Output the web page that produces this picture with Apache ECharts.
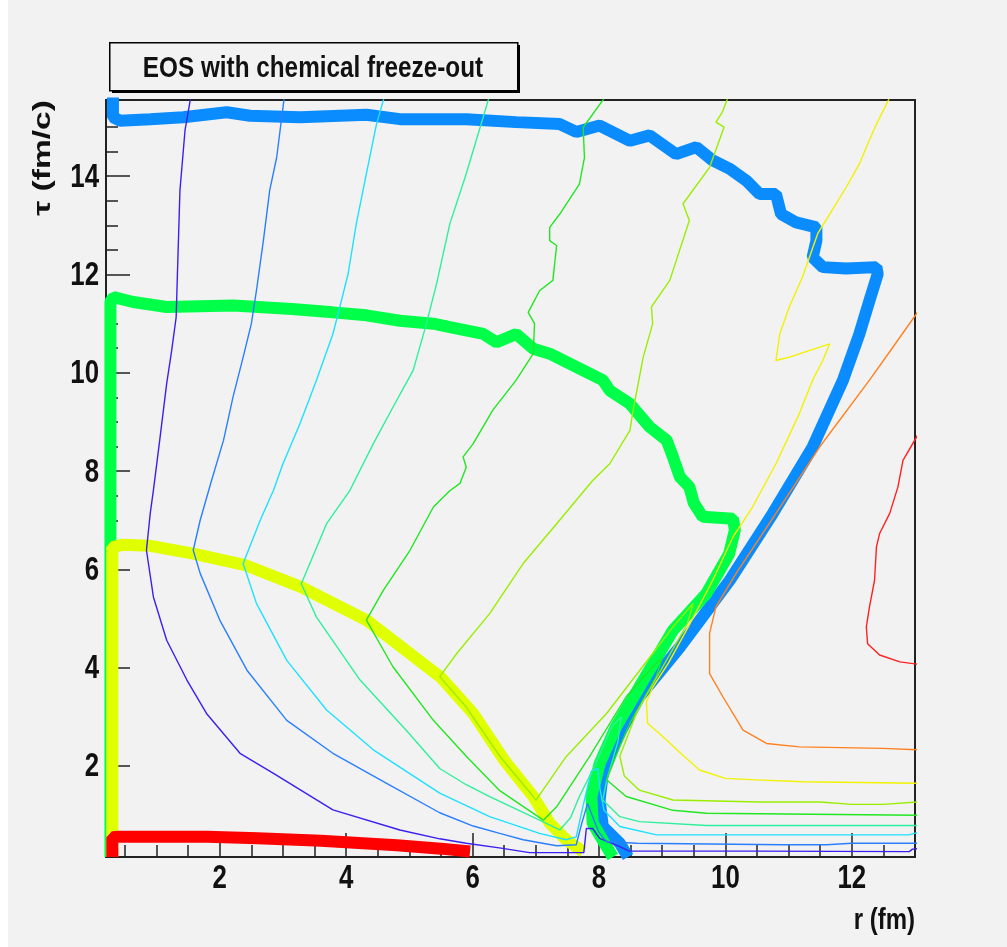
<!DOCTYPE html>
<html>
<head>
<meta charset="utf-8">
<script src="https://cdn.jsdelivr.net/npm/echarts@6/dist/echarts.min.js"></script>
<style>
  html, body { margin: 0; padding: 0; background: #ffffff; }
  #chart { width: 1007px; height: 947px; }
</style>
</head>
<body>
<div id="chart"></div>
<script>
// Axis ranges: r (fm) and tau (fm/c)
const rRange = [0.2, 13];
const tauRange = [0.15, 15.55];
// Labelled tick values
const rTicks = [2, 4, 6, 8, 10, 12];
const tauTicks = [2, 4, 6, 8, 10, 12, 14];

// Freeze-out surfaces, [r, tau] pairs
const redSurface = [[0.3,0.15],[0.3,0.55],[0.4,0.56],[1.8,0.56],[2.6,0.53],[3.6,0.48],[4.8,0.39],[5.5,0.32],[5.96,0.26]];
const yellowSurface = [[0.3,0.15],[0.3,6.45],[0.45,6.5],[0.9,6.48],[1.58,6.32],[2.4,6.09],[3.29,5.64],[4.32,4.97],[5.5,3.8],[6.01,3.07],[6.5,2.12],[6.96,1.38],[7.22,0.84],[7.48,0.5],[7.75,0.26]];
const greenSurface = [[0.27,0.15],[0.27,11.45],[0.32,11.54],[0.63,11.44],[1.16,11.34],[2.21,11.37],[3.14,11.3],[3.79,11.23],[4.32,11.17],[4.85,11.06],[5.38,11.0],[5.64,10.93],[6.17,10.79],[6.38,10.62],[6.69,10.79],[6.96,10.49],[7.22,10.39],[7.75,10.05],[8.06,9.85],[8.17,9.64],[8.49,9.37],[8.8,8.9],[9.07,8.63],[9.17,8.29],[9.28,7.88],[9.43,7.68],[9.5,7.35],[9.64,7.07],[10.12,7.03],[10.15,6.8],[10.06,6.32],[9.7,5.51],[9.17,4.76],[8.64,3.61],[8.27,2.8],[8.01,2.05],[7.88,1.38],[7.9,0.84],[8.12,0.36],[8.22,0.15]];
const blueSurface = [[0.31,15.6],[0.31,15.2],[0.42,15.13],[0.9,15.16],[1.42,15.2],[2.11,15.3],[2.48,15.23],[3.27,15.2],[4.32,15.25],[4.85,15.16],[5.9,15.16],[6.69,15.1],[7.38,15.06],[7.64,14.9],[8.01,15.03],[8.49,14.72],[8.8,14.83],[9.22,14.45],[9.54,14.59],[9.8,14.32],[10.07,14.15],[10.33,13.91],[10.54,13.64],[10.8,13.64],[10.88,13.23],[11.12,13.06],[11.44,12.96],[11.44,12.69],[11.38,12.35],[11.54,12.15],[11.91,12.12],[12.39,12.15],[12.41,12.01],[12.28,11.47],[12.12,10.79],[11.86,9.85],[11.38,8.49],[10.75,7.14],[10.07,5.78],[9.28,4.42],[8.64,3.41],[8.27,2.53],[8.06,1.85],[8.01,1.31],[8.06,0.77],[8.33,0.43],[8.46,0.15]];

// Isotherms, [r, tau] pairs
const isoDarkBlue = [[1.54,15.6],[1.45,14.93],[1.37,13.71],[1.33,12.01],[1.31,11.13],[1.24,10.46],[1.16,9.78],[1.05,8.63],[0.95,7.61],[0.9,7.14],[0.84,6.39],[0.95,5.44],[1.16,4.56],[1.48,3.75],[1.79,3.07],[2.32,2.26],[2.85,1.85],[3.79,1.11],[4.85,0.7],[5.48,0.52],[5.9,0.43],[6.45,0.33],[6.9,0.24],[7.76,0.24],[7.8,0.73],[7.9,0.73],[8.01,0.53],[8.33,0.36],[8.48,0.27],[10.5,0.27],[12.91,0.26],[12.96,0.31],[13.05,0.32]];
const isoBlue = [[3.02,15.6],[2.9,14.38],[2.79,13.71],[2.69,12.69],[2.58,11.67],[2.5,11.0],[2.37,10.32],[2.21,9.51],[2.06,8.63],[1.87,7.81],[1.69,7.0],[1.58,6.39],[1.69,5.92],[2.0,4.97],[2.43,3.95],[3.06,2.93],[3.79,2.26],[4.64,1.65],[5.48,1.05],[6.01,0.78],[6.43,0.63],[6.8,0.5],[7.33,0.38],[7.64,0.4],[7.72,0.8],[7.82,1.24],[7.92,0.9],[8.0,0.65],[8.12,0.46],[8.6,0.43],[10.9,0.4],[11.6,0.4],[12.0,0.43],[13.05,0.43]];
const isoCyan = [[4.6,15.6],[4.48,15.06],[4.32,14.05],[4.16,13.03],[4.03,12.01],[3.9,11.34],[3.79,10.79],[3.53,9.85],[3.27,8.97],[3.0,8.15],[2.85,7.61],[2.64,7.0],[2.37,6.12],[2.58,5.31],[3.06,4.15],[3.69,3.14],[4.43,2.33],[5.48,1.45],[6.27,0.97],[7.06,0.63],[7.48,0.5],[7.64,0.56],[7.75,1.2],[7.88,1.9],[7.98,1.95],[8.02,1.5],[8.08,1.1],[8.33,0.77],[8.91,0.6],[10.0,0.6],[12.9,0.6],[13.05,0.65]];
const isoSeaGreen = [[6.26,15.6],[5.9,14.05],[5.64,13.03],[5.43,11.81],[5.27,11.0],[5.06,10.05],[4.74,9.3],[4.43,8.56],[4.06,7.61],[3.69,6.93],[3.29,5.71],[3.53,5.03],[4.22,3.75],[4.95,2.73],[5.48,1.95],[5.9,1.62],[6.27,1.38],[7.06,0.9],[7.38,0.7],[7.55,0.95],[7.69,1.38],[7.95,2.05],[8.2,2.8],[8.35,3.0],[8.3,2.5],[8.12,1.7],[8.06,1.31],[8.33,0.97],[8.64,0.87],[9.7,0.79],[13.05,0.79]];
const isoGreen = [[8.09,15.6],[7.75,14.99],[7.77,14.38],[7.69,13.84],[7.38,13.23],[7.22,12.96],[7.22,12.69],[7.33,12.59],[7.27,11.88],[7.06,11.67],[6.88,11.23],[6.98,11.0],[6.96,10.39],[6.69,9.85],[6.32,9.24],[6.01,8.56],[5.85,8.29],[5.9,8.08],[5.8,7.75],[5.64,7.6],[5.38,7.27],[5.01,6.39],[4.59,5.58],[4.32,4.97],[4.74,4.02],[5.38,2.93],[5.9,2.2],[6.43,1.5],[7.12,0.9],[7.33,1.17],[7.85,2.19],[8.43,3.41],[8.85,4.02],[9.0,4.2],[8.9,3.8],[8.5,2.9],[8.3,2.3],[8.12,1.72],[8.43,1.38],[9.17,1.1],[9.7,1.04],[13.05,1.0]];
const isoLime = [[10.04,15.6],[9.95,15.3],[9.85,15.1],[9.98,15.0],[9.75,14.18],[9.33,13.44],[9.43,13.1],[9.12,11.88],[8.83,11.34],[8.85,11.0],[8.7,10.32],[8.54,9.24],[8.49,8.83],[8.17,8.15],[7.9,7.81],[7.33,6.93],[6.8,6.12],[6.27,5.1],[5.75,4.29],[5.48,3.82],[5.9,3.2],[6.43,2.2],[6.96,1.38],[7.0,1.3],[7.48,2.19],[8.12,3.07],[8.85,4.29],[9.17,4.83],[9.49,5.31],[9.4,4.9],[9.0,4.0],[8.6,3.1],[8.33,2.2],[8.4,1.8],[8.64,1.51],[9.17,1.31],[10.54,1.27],[11.5,1.27],[12.0,1.22],[12.5,1.22],[13.05,1.27]];
const isoYellow = [[12.6,15.6],[12.39,15.06],[12.23,14.59],[12.12,14.25],[11.91,13.77],[11.65,13.23],[11.46,12.83],[11.33,12.35],[11.22,11.95],[11.01,11.34],[10.86,10.79],[10.8,10.25],[11.01,10.32],[11.65,10.59],[11.54,10.25],[11.38,9.85],[11.17,9.17],[10.8,8.15],[10.43,7.27],[10.12,6.66],[9.8,5.78],[9.4,4.8],[9.1,4.1],[8.85,3.6],[8.75,3.3],[8.77,2.87],[9.07,2.53],[9.3,2.25],[9.59,1.92],[10.0,1.75],[10.5,1.72],[11.22,1.68],[13.05,1.65]];
const isoOrange = [[13.05,11.25],[12.65,10.52],[12.28,9.85],[11.49,8.49],[10.8,7.14],[10.17,5.92],[9.85,5.24],[9.75,4.7],[9.75,3.88],[9.96,3.41],[10.28,2.73],[10.65,2.46],[11.17,2.39],[12.49,2.36],[13.05,2.33]];
const isoRed = [[13.05,8.75],[12.81,8.22],[12.73,7.68],[12.6,7.14],[12.44,6.73],[12.39,6.46],[12.36,5.78],[12.28,5.24],[12.23,4.83],[12.25,4.49],[12.44,4.26],[12.76,4.12],[13.05,4.07]];

const surfaces = [
  { data: blueSurface, color: '#0a8cff' },
  { data: greenSurface, color: '#00ff48' },
  { data: yellowSurface, color: '#e0ff00' },
  { data: redSurface, color: '#ff0000' }
];
const isotherms = [
  { data: isoDarkBlue, color: '#3a1ff0' },
  { data: isoBlue, color: '#2a7fff' },
  { data: isoCyan, color: '#1ee0ff' },
  { data: isoSeaGreen, color: '#2ef09a' },
  { data: isoGreen, color: '#22e622' },
  { data: isoLime, color: '#99ee00' },
  { data: isoYellow, color: '#f2f200' },
  { data: isoOrange, color: '#ff8020' },
  { data: isoRed, color: '#ff2020' }
];

const FONT = "'Liberation Sans', Arial, sans-serif";
const INK = '#111';
const NARROW = 0.76;   // horizontal squeeze giving the condensed Helvetica look
const PANEL = '#f2f2f2';

const chart = echarts.init(document.getElementById('chart'), null, { renderer: 'canvas' });

const series = [];
surfaces.forEach((s, i) => series.push({
  type: 'line', data: s.data, xAxisIndex: 0, yAxisIndex: 0,
  showSymbol: false, symbol: 'none', silent: true, clip: true,
  lineStyle: { color: s.color, width: 12, join: 'bevel', cap: 'butt' },
  z: 2 + i * 0.01
}));
isotherms.forEach(s => series.push({
  type: 'line', data: s.data, xAxisIndex: 0, yAxisIndex: 0,
  showSymbol: false, symbol: 'none', silent: true, clip: true,
  lineStyle: { color: s.color, width: 1.4 },
  z: 3
}));

// Tick labels placed through the axis scales, squeezed horizontally
series.push({
  type: 'custom', coordinateSystem: 'cartesian2d', xAxisIndex: 0, yAxisIndex: 0,
  data: rTicks.map(v => [v, tauRange[0]]), clip: false, silent: true, z: 6,
  renderItem: (params, api) => {
    const p = api.coord([api.value(0), api.value(1)]);
    return { type: 'text', x: p[0], y: p[1] + 22, scaleX: NARROW,
      style: { text: String(api.value(0)), font: 'bold 34px ' + FONT, fill: INK, align: 'center', verticalAlign: 'middle' } };
  }
});
series.push({
  type: 'custom', coordinateSystem: 'cartesian2d', xAxisIndex: 0, yAxisIndex: 0,
  data: tauTicks.map(v => [rRange[0], v]), clip: false, silent: true, z: 6,
  renderItem: (params, api) => {
    const p = api.coord([api.value(0), api.value(1)]);
    return { type: 'text', x: p[0] - 7, y: p[1] + 1, scaleX: NARROW,
      style: { text: String(api.value(1)), font: 'bold 34px ' + FONT, fill: INK, align: 'right', verticalAlign: 'middle' } };
  }
});

const majorAxis = (min, max) => ({
  type: 'value', min, max, minInterval: 2, maxInterval: 2,
  axisLine: { show: true, lineStyle: { color: '#222', width: 2 } },
  axisTick: { show: true, inside: true, length: 24, lineStyle: { color: '#222', width: 1.5 } },
  axisLabel: { show: false },
  splitLine: { show: false }
});
const minorAxis = (min, max) => ({
  type: 'value', min, max, minInterval: 0.5, maxInterval: 0.5,
  axisLine: { show: false },
  axisTick: { show: true, inside: true, length: 12, lineStyle: { color: '#222', width: 1.5 } },
  axisLabel: { show: false },
  splitLine: { show: false }
});

chart.setOption({
  animation: false,
  backgroundColor: 'transparent',
  grid: { left: 106, right: 92, top: 100, bottom: 90, show: true, borderColor: '#222', borderWidth: 2, backgroundColor: 'transparent' },
  xAxis: [
    Object.assign(majorAxis(rRange[0], rRange[1]), { position: 'bottom' }),
    Object.assign(minorAxis(rRange[0], rRange[1]), { position: 'bottom' })
  ],
  yAxis: [
    Object.assign(majorAxis(tauRange[0], tauRange[1]), { position: 'left' }),
    Object.assign(minorAxis(tauRange[0], tauRange[1]), { position: 'left' })
  ],
  series,
  graphic: [
    { type: 'rect', left: 8, top: 0, z: -10, shape: { width: 999, height: 947 }, style: { fill: PANEL } },
    { type: 'rect', left: 112, top: 45, shape: { width: 408, height: 48 }, style: { fill: '#000' }, z: 10 },
    { type: 'rect', left: 109, top: 42, shape: { width: 408, height: 48 }, style: { fill: PANEL, stroke: '#000', lineWidth: 1.5 }, z: 11 },
    { type: 'text', x: 313, y: 69, scaleX: 0.81, z: 12, style: { text: 'EOS with chemical freeze-out', font: 'bold 30px ' + FONT, fill: INK, align: 'center', verticalAlign: 'middle' } },
    { type: 'text', x: 43, y: 100, rotation: Math.PI / 2, scaleX: 1.4, z: 12, style: { text: 'τ (fm/c)', font: 'bold 24px ' + FONT, fill: INK, align: 'right', verticalAlign: 'middle' } },
    { type: 'text', x: 915, y: 921, scaleX: 0.8, z: 12, style: { text: 'r (fm)', font: 'bold 30px ' + FONT, fill: INK, align: 'right', verticalAlign: 'middle' } }
  ]
});
</script>
</body>
</html>
